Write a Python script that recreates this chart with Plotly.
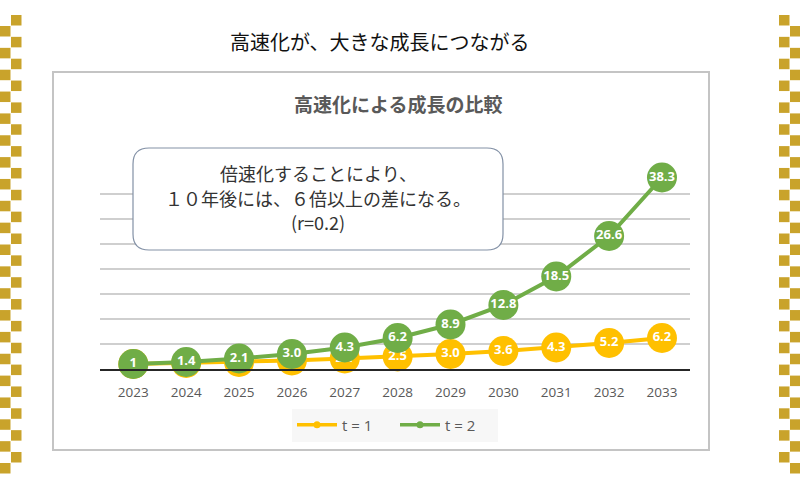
import plotly.graph_objects as go

# ---- data ----
years = [2023, 2024, 2025, 2026, 2027, 2028, 2029, 2030, 2031, 2032, 2033]
t1_values = [1, 1.2, 1.4, 1.7, 2.1, 2.5, 3.0, 3.6, 4.3, 5.2, 6.2]
t1_labels = ["1", "1.2", "1.4", "1.7", "2.1", "2.5", "3.0", "3.6", "4.3", "5.2", "6.2"]
t2_values = [1, 1.4, 2.1, 3.0, 4.3, 6.2, 8.9, 12.8, 18.5, 26.6, 38.3]
t2_labels = ["1", "1.4", "2.1", "3.0", "4.3", "6.2", "8.9", "12.8", "18.5", "26.6", "38.3"]
series_names = ["t = 1", "t = 2"]
page_title = "高速化が、大きな成長につながる"
chart_title = "高速化による成長の比較"
callout_lines = ["倍速化することにより、", "１０年後には、６倍以上の差になる。", "(r=0.2)"]

ORANGE = "#FFC000"
GREEN = "#70AD47"
GOLD = "#C9A32B"

W, H = 800, 477
L, R_px = 100, 690
T_px, B_px = 168, 369
PW = R_px - L
PH = B_px - T_px


def px2x(px):
    return (px - L) / PW


def py2y(py):
    return (B_px - py) / PH


fig = go.Figure()

lab_font = dict(family="Open Sans, Noto Sans, sans-serif", size=13, color="white")

fig.add_trace(go.Scatter(
    x=years, y=t1_values, mode="lines+markers+text", text=[f"<b>{t}</b>" for t in t1_labels],
    textposition="middle center", textfont=lab_font,
    line=dict(color=ORANGE, width=4), marker=dict(size=30, color=ORANGE),
    showlegend=False, cliponaxis=False))
fig.add_trace(go.Scatter(
    x=years, y=t2_values, mode="lines+markers+text", text=[f"<b>{t}</b>" for t in t2_labels],
    textposition="middle center", textfont=lab_font,
    line=dict(color=GREEN, width=4), marker=dict(size=30, color=GREEN),
    showlegend=False, cliponaxis=False))
# legend entries
for name, col in zip(series_names, [ORANGE, GREEN]):
    fig.add_trace(go.Scatter(x=[None], y=[None], mode="lines+markers", name=name,
                             line=dict(color=col, width=3.5), marker=dict(size=7, color=col)))

shapes = []
# chart frame
shapes.append(dict(type="rect", xref="paper", yref="paper",
                   x0=px2x(53), x1=px2x(709), y0=py2y(72), y1=py2y(450),
                   line=dict(color="#c4c4c4", width=2), layer="below"))

# checkered borders
step = 21.85
for base_x, start_y in [(11, 15), (0, 26), (779, 15), (790, 26)]:
    y = start_y
    while y < 465:
        shapes.append(dict(type="rect", xref="paper", yref="paper",
                           x0=px2x(base_x), x1=px2x(base_x + 10.5),
                           y0=py2y(y), y1=py2y(y + 10.5),
                           line=dict(width=0), fillcolor=GOLD, layer="above"))
        y += step

# rounded callout box
bx0, bx1, by0, by1, rr = 133, 503, 148, 250, 16
pts = [
    f"M {px2x(bx0 + rr)},{py2y(by0)}",
    f"L {px2x(bx1 - rr)},{py2y(by0)}",
    f"Q {px2x(bx1)},{py2y(by0)} {px2x(bx1)},{py2y(by0 + rr)}",
    f"L {px2x(bx1)},{py2y(by1 - rr)}",
    f"Q {px2x(bx1)},{py2y(by1)} {px2x(bx1 - rr)},{py2y(by1)}",
    f"L {px2x(bx0 + rr)},{py2y(by1)}",
    f"Q {px2x(bx0)},{py2y(by1)} {px2x(bx0)},{py2y(by1 - rr)}",
    f"L {px2x(bx0)},{py2y(by0 + rr)}",
    f"Q {px2x(bx0)},{py2y(by0)} {px2x(bx0 + rr)},{py2y(by0)} Z",
]
shapes.append(dict(type="path", xref="paper", yref="paper", path=" ".join(pts),
                   fillcolor="white", line=dict(color="#8391a6", width=1.2), layer="above"))

annotations = [
    dict(text=page_title, xref="paper", yref="paper", x=px2x(380), y=py2y(41),
         showarrow=False, xanchor="center", yanchor="middle",
         font=dict(family="Noto Sans CJK JP", size=20, color="#111111")),
    dict(text=f"<b>{chart_title}</b>", xref="paper", yref="paper", x=px2x(398), y=py2y(103),
         showarrow=False, xanchor="center", yanchor="middle",
         font=dict(family="Noto Sans CJK JP", size=19, color="#595959")),
]
for i, line in enumerate(callout_lines):
    annotations.append(dict(text=line, xref="paper", yref="paper", x=px2x(318), y=py2y(173 + 24.5 * i),
                            showarrow=False, xanchor="center", yanchor="middle",
                            font=dict(family="Noto Sans CJK JP", size=18, color="#333333")))

fig.update_layout(
    width=W, height=H,
    margin=dict(l=L, r=W - R_px, t=T_px, b=H - B_px),
    paper_bgcolor="white", plot_bgcolor="white",
    shapes=shapes, annotations=annotations,
    legend=dict(orientation="h", x=px2x(395), y=py2y(425), xanchor="center", yanchor="middle",
                bgcolor="#f7f7f7", font=dict(family="Open Sans, sans-serif", size=15, color="#595959"),
                itemwidth=40, entrywidth=48),
    xaxis=dict(range=[2022.37, 2033.53], tickmode="array", tickvals=years,
               ticktext=[str(y) for y in years], showgrid=False, zeroline=False,
               showline=True, linecolor="#262626", linewidth=2, ticks="", ticklabelstandoff=10,
               tickfont=dict(family="Open Sans, sans-serif", size=13.5, color="#595959")),
    yaxis=dict(range=[0, PH / 5], dtick=5, tick0=0, showgrid=True, gridcolor="#cfcfcf", gridwidth=1.5,
               zeroline=False, showticklabels=False, showline=False),
    showlegend=True,
)

fig.write_html("out.html", config={"displayModeBar": False},
               post_script="document.body.style.margin='0px';document.body.style.overflow='hidden';")
